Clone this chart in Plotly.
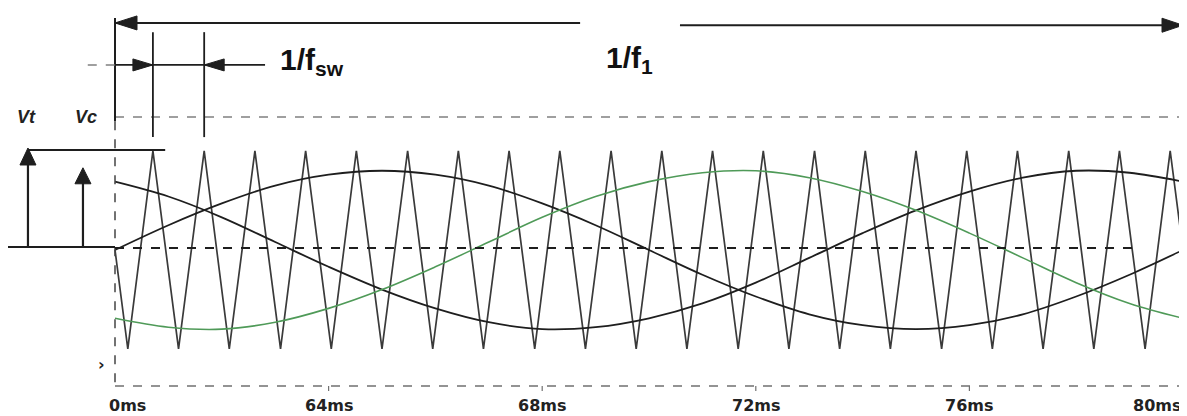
import plotly.graph_objects as go

# ---------------- data ----------------
# time axis in ms
t_sine = [60, 61, 62, 63, 64, 65, 66, 67, 68, 69, 70,
          71, 72, 73, 74, 75, 76, 77, 78, 79, 80]
# three modulating (control) waves, normalised to carrier peak = 1
va = [0.00, 0.25, 0.47, 0.65, 0.76, 0.80, 0.76, 0.65, 0.47, 0.25, 0.00,
      -0.25, -0.47, -0.65, -0.76, -0.80, -0.76, -0.65, -0.47, -0.25, 0.00]
vb = [0.69, 0.54, 0.33, 0.08, -0.17, -0.40, -0.59, -0.73, -0.80, -0.78, -0.69,
      -0.54, -0.33, -0.08, 0.17, 0.40, 0.59, 0.73, 0.80, 0.78, 0.69]
vc = [-0.69, -0.78, -0.80, -0.73, -0.59, -0.40, -0.17, 0.08, 0.33, 0.54, 0.69,
      0.78, 0.80, 0.73, 0.59, 0.40, 0.17, -0.08, -0.33, -0.54, -0.69]
# triangular carrier: trough and peak instants (ms)
carrier_troughs = [60.24, 61.19, 62.14, 63.10, 64.05, 65.00, 65.95, 66.90, 67.86, 68.81, 69.76,
                   70.71, 71.67, 72.62, 73.57, 74.52, 75.48, 76.43, 77.38, 78.33, 79.29]
carrier_peaks = [60.71, 61.67, 62.62, 63.57, 64.52, 65.48, 66.43, 67.38, 68.33, 69.29, 70.24,
                 71.19, 72.14, 73.10, 74.05, 75.00, 75.95, 76.90, 77.86, 78.81, 79.76]
carrier_start = (60, 0.0)
carrier_end = (80, 0.0)
tick_vals = [60, 64, 68, 72, 76, 80]
tick_text = ["0ms", "64ms", "68ms", "72ms", "76ms", "80ms"]

# build carrier polyline
cx = [carrier_start[0]]
cy = [carrier_start[1]]
for tr, pk in zip(carrier_troughs, carrier_peaks):
    cx += [tr, pk]
    cy += [-1.0, 1.0]
cx.append(carrier_end[0])
cy.append(carrier_end[1])

BLACK = "#1e1e1e"
GREEN = "#4f9a58"
GRAY = "#808080"

fig = go.Figure()
fig.add_trace(go.Scatter(x=cx, y=cy, mode="lines",
                         line=dict(color="#3a3a3a", width=1.7), hoverinfo="skip"))
fig.add_trace(go.Scatter(x=t_sine, y=vb, mode="lines",
                         line=dict(color=BLACK, width=1.8, shape="spline"), hoverinfo="skip"))
fig.add_trace(go.Scatter(x=t_sine, y=va, mode="lines",
                         line=dict(color=BLACK, width=1.8, shape="spline"), hoverinfo="skip"))
fig.add_trace(go.Scatter(x=t_sine, y=vc, mode="lines",
                         line=dict(color=GREEN, width=1.6, shape="spline"), hoverinfo="skip"))

shapes = []


def line(x0, y0, x1, y1, color=BLACK, width=2, dash="solid"):
    shapes.append(dict(type="line", xref="x", yref="y", x0=x0, y0=y0, x1=x1, y1=y1,
                       line=dict(color=color, width=width, dash=dash), layer="above"))


def head(x, y, path):
    shapes.append(dict(type="path", xref="x", yref="y", xsizemode="pixel", ysizemode="pixel",
                       xanchor=x, yanchor=y, path=path, fillcolor=BLACK,
                       line=dict(color=BLACK, width=1), layer="above"))


Y_TOP = 1.343
Y_BOT = -1.374
# frame
line(60, Y_TOP, 80, Y_TOP, GRAY, 1.5, "dash")
line(60, Y_BOT, 80, Y_BOT, "#707070", 1.5, "dash")
line(60, 2.343, 60, 1.30, BLACK, 2)
line(60, 1.30, 60, Y_BOT, "#444444", 1.5, "dash")
line(80, 2.40, 80, 1.31, BLACK, 2)
line(80, 1.31, 80, Y_BOT, "#707070", 1.5, "dash")
for tv in tick_vals[1:]:
    line(tv, Y_BOT, tv, Y_BOT - 0.05, "#707070", 1.2)
# zero reference
line(60, 0.02, 79.10, 0.02, BLACK, 1.8, "dash")
# switching-period markers
line(carrier_peaks[0], 2.20, carrier_peaks[0], 1.14, BLACK, 1.8)
line(carrier_peaks[1], 2.20, carrier_peaks[1], 1.14, BLACK, 1.8)
# 1/f1 dimension
line(60, 2.293, 68.71, 2.293, BLACK, 2)
line(70.58, 2.27, 80, 2.27, BLACK, 2)
head(60, 2.293, "M0,0 L22,7 L22,-7 Z")
head(80, 2.27, "M0,0 L-21,7 L-21,-7 Z")
# 1/fsw dimension
line(59.49, 1.869, 60, 1.869, GRAY, 1.5, "dash")
line(60, 1.869, carrier_peaks[1], 1.869, BLACK, 1.8)
line(carrier_peaks[1], 1.869, 62.81, 1.869, BLACK, 1.8)
head(carrier_peaks[0], 1.869, "M0,0 L-20,6 L-20,-6 Z")
head(carrier_peaks[1], 1.869, "M0,0 L20,6 L20,-6 Z")
# amplitude arrows on the left
line(57.97, 0.03, 60, 0.03, BLACK, 2)
line(58.37, 1.01, 60.94, 1.01, BLACK, 2)
line(58.37, 0.03, 58.37, 0.90, BLACK, 2.2)
line(59.40, 0.03, 59.40, 0.72, BLACK, 2.2)
head(58.37, 1.03, "M0,0 L-8,-17 L8,-17 Z")
head(59.40, 0.83, "M0,0 L-8,-16 L8,-16 Z")

annotations = []
LBL_Y = -1.566
for tv, tt in zip(tick_vals, tick_text):
    if tv == tick_vals[0]:
        xa, xx = "left", 59.85
    elif tv == tick_vals[-1]:
        xa, xx = "right", tv
    else:
        xa, xx = "center", tv
    annotations.append(dict(x=xx, y=LBL_Y, xref="x", yref="y", text="<b>%s</b>" % tt,
                            showarrow=False, xanchor=xa, yanchor="middle",
                            font=dict(family="DejaVu Sans", size=16, color="#222222")))
annotations.append(dict(x=69.63, y=1.92, xref="x", yref="y", text="<b>1/f<sub>1</sub></b>",
                        showarrow=False, xanchor="center", yanchor="middle",
                        font=dict(family="Liberation Sans", size=30, color="#111111")))
annotations.append(dict(x=63.05, y=1.90, xref="x", yref="y", text="<b>1/f<sub>sw</sub></b>",
                        showarrow=False, xanchor="left", yanchor="middle",
                        font=dict(family="Liberation Sans", size=30, color="#111111")))
annotations.append(dict(x=58.35, y=1.343, xref="x", yref="y", text="<b><i>Vt</i></b>",
                        showarrow=False, xanchor="center", yanchor="middle",
                        font=dict(family="Liberation Sans", size=18, color="#222222")))
annotations.append(dict(x=59.45, y=1.343, xref="x", yref="y", text="<b><i>Vc</i></b>",
                        showarrow=False, xanchor="center", yanchor="middle",
                        font=dict(family="Liberation Sans", size=18, color="#222222")))
annotations.append(dict(x=59.74, y=-1.16, xref="x", yref="y", text="<b>›</b>",
                        showarrow=False, xanchor="center", yanchor="middle",
                        font=dict(family="DejaVu Sans", size=16, color="#222222")))

# the page body adds an 8px offset, so the figure covers picture pixels 8..1187 / 8..416
fig.update_layout(
    width=1179, height=408,
    margin=dict(l=0, r=0, t=0, b=0),
    paper_bgcolor="white", plot_bgcolor="white",
    showlegend=False,
    xaxis=dict(range=[57.9963, 80.0749], visible=False, fixedrange=True),
    yaxis=dict(range=[-1.677, 2.444], visible=False, fixedrange=True),
    shapes=shapes, annotations=annotations,
)
fig.write_html("out.html")
